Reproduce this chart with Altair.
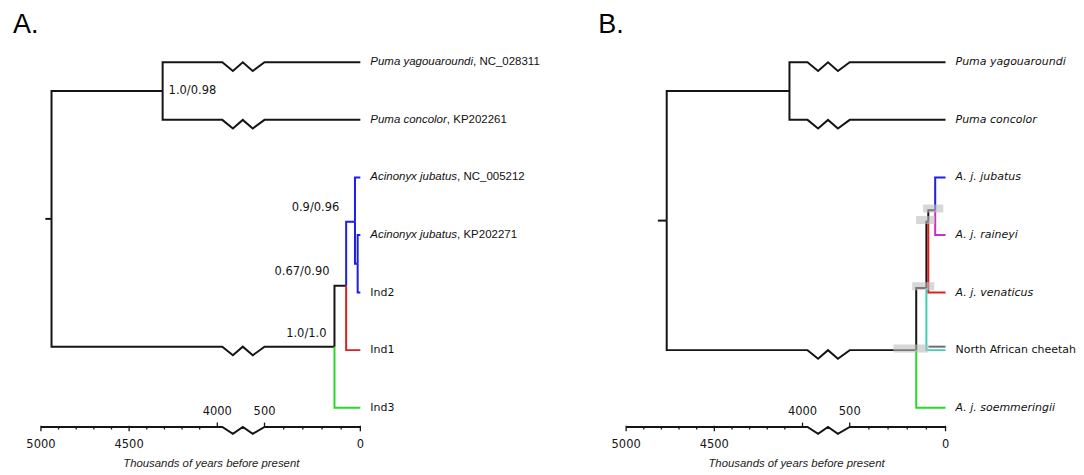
import altair as alt
import pandas as pd

# ---------------- data ----------------
AXIS_MAJOR = [5000, 4500, 4000, 500, 0]
AXIS_MAJOR_SIDE = ["below", "below", "above", "above", "below"]
AXIS_MINOR = [4900, 4800, 4700, 4600, 4400, 4300, 4200, 4100, 400, 300, 200, 100]
AXIS_TITLE = "Thousands of years before present"

# Panel A tree (ages in thousands of years before present, rows = tip order)
A_NODE = ["root", "puma", "c1", "c2", "c3", "c4", "PY", "PC", "AJ1", "AJ2", "Ind2", "Ind1", "Ind3"]
A_PARENT = ["", "root", "root", "c1", "c2", "c3", "puma", "puma", "c3", "c4", "c4", "c2", "c1"]
A_AGE = [4940, 4310, 135, 74, 28, 14, 0, 0, 0, 0, 0, 0, 0]
A_ROW = [2.72, 0.5, 4.94, 3.88, 2.77, 3.5, 0, 1, 2, 3, 4, 5, 6]
A_COLOR = ["black", "black", "black", "black", "blue", "blue", "black", "black",
           "blue", "blue", "blue", "red", "green"]
A_ROOT_STEM = 4975
A_TIP_NAME = ["Puma yagouaroundi", "Puma concolor", "Acinonyx jubatus", "Acinonyx jubatus",
              "Ind2", "Ind1", "Ind3"]
A_TIP_ACC = [", NC_028311", ", KP202261", ", NC_005212", ", KP202271", "", "", ""]
A_TIP_LATIN = [True, True, True, True, False, False, False]
A_TIP_ROW = [0, 1, 2, 3, 4, 5, 6]
A_SUPPORT_NODE = ["puma", "c3", "c2", "c1"]
A_SUPPORT_TEXT = ["1.0/0.98", "0.9/0.96", "0.67/0.90", "1.0/1.0"]

# Panel B tree
B_NODE = ["root", "puma", "c1", "c2", "c3", "c4", "PY", "PC", "JUB", "RAI", "VEN", "NAF", "SOE"]
B_PARENT = ["", "root", "root", "c1", "c2", "c3", "puma", "puma", "c4", "c4", "c3", "c2", "c1"]
B_AGE = [4770, 4074, 153, 100, 90, 54, 0, 0, 0, 0, 0, 0, 0]
B_ROW = [2.75, 0.5, 5.0, 3.92, 2.77, 2.57, 0, 1, 2, 3, 4, 5, 6]
B_COLOR = ["black", "black", "black", "black", "black", "black", "black", "black",
           "blue", "magenta", "red", "turquoise", "green"]
B_ROOT_STEM = 4820
B_TIP_NAME = ["Puma yagouaroundi", "Puma concolor", "A. j. jubatus", "A. j. raineyi",
              "A. j. venaticus", "North African cheetah", "A. j. soemmeringii"]
B_TIP_ACC = ["", "", "", "", "", "", ""]
B_TIP_LATIN = [True, True, True, True, True, False, True]
B_TIP_ROW = [0, 1, 2, 3, 4, 5, 6]
B_HPD_NODE = ["c1", "c2", "c3", "c4"]
B_HPD_LOW = [90, 59, 55, 12]
B_HPD_HIGH = [272, 174, 154, 117]
B_EXTRA_FROM = ["c2"]          # extra grey North African lineage line
B_EXTRA_ROW = [4.94]
B_EXTRA_COLOR = ["grey"]

# ---------------- styles / scale ----------------
PALETTE = {"black": "#151515", "blue": "#1e1ee6", "red": "#dc2020", "green": "#2ad82a",
           "magenta": "#cc30c0", "turquoise": "#3fd0b4", "grey": "#6e6e6e"}
LEFT_RATE = 0.1767     # px per kyr, 5000-4000 segment
RIGHT_RATE = 0.192     # px per kyr, 500-0 segment
GAP0 = 1000 * LEFT_RATE
GAP1 = 224.0
ZIG_FRAC = [0.106, 0.33, 0.54, 0.75, 1.0]
ZIG_DIP = [0, 1, 0, 1, 0]
BRANCH_ZIG = 0.15
AXIS_ZIG = 0.12
ROW_TOP, ROW_BOTTOM = -0.936, 7.023
AXIS_ROW = 6.334
LABEL_BELOW_ROW = 6.655
LABEL_ABOVE_ROW = 6.07
TITLE_ROW = 6.97
TITLE_X = 170.7
LETTER_ROW = -0.64
LETTER_DX = -28
TIP_GAP = 10

ARIAL = {" ": 278, ",": 278, ".": 278, "_": 556, "A": 667, "C": 722, "K": 667, "N": 722,
         "P": 667, "a": 556, "b": 556, "c": 500, "d": 556, "e": 556, "g": 556, "i": 222,
         "j": 222, "l": 222, "m": 833, "n": 556, "o": 556, "r": 333, "s": 500, "t": 278,
         "u": 556, "x": 500, "y": 500}


def text_width(s, size):
    return sum(ARIAL.get(ch, 556) for ch in s) / 1000.0 * size


def disp(t):
    if t >= 4000:
        return (5000 - t) * LEFT_RATE
    return GAP1 + (500 - t) * RIGHT_RATE


def zig(row, depth):
    return [(GAP0 + f * (GAP1 - GAP0), row + d * depth) for f, d in zip(ZIG_FRAC, ZIG_DIP)]


def branch(t0, r0, t1, r1):
    pts = [(disp(t0), r0), (disp(t0), r1)]
    if t0 > 4000 and t1 < 500:
        pts += zig(r1, BRANCH_ZIG)
    pts.append((disp(t1), r1))
    return pts


def make_panel(letter, nodes, parents, ages, rows, colors, root_stem,
               tip_name, tip_acc, tip_latin, tip_row, latin_font, latin_size,
               plain_size, origin, width, supports=None, hpd=None, extra=None):
    age = dict(zip(nodes, ages))
    row = dict(zip(nodes, rows))
    xs = alt.Scale(domain=[-origin, width - origin], nice=False, zero=False)
    ys = alt.Scale(domain=[ROW_TOP, ROW_BOTTOM], nice=False, zero=False, reverse=True)
    X = lambda f: alt.X(f, type="quantitative", scale=xs, axis=None)
    Y = lambda f: alt.Y(f, type="quantitative", scale=ys, axis=None)

    recs = []
    seg = 0

    def add(pts, col):
        nonlocal seg
        for i, (x, y) in enumerate(pts):
            recs.append({"seg": seg, "i": i, "x": x, "y": y, "color": PALETTE[col]})
        seg += 1

    add(branch(root_stem, row["root"], age["root"], row["root"]), "black")
    for n, p, c in zip(nodes, parents, colors):
        if p:
            add(branch(age[p], row[p], age[n], row[n]), c)
    if extra:
        for frm, r, c in zip(*extra):
            add([(disp(age[frm]) + 2, r), (disp(0), r)], c)
    add([(disp(5000), AXIS_ROW)] + zig(AXIS_ROW, AXIS_ZIG) + [(disp(0), AXIS_ROW)], "black")
    lines = alt.Chart(pd.DataFrame(recs)).mark_line(
        strokeWidth=2, strokeJoin="miter", strokeCap="butt"
    ).encode(x=X("x"), y=Y("y"), color=alt.Color("color:N", scale=None),
             detail="seg:N", order="i:Q")
    layers = [lines]

    if hpd:
        hn, lo, hi = hpd
        hdf = pd.DataFrame({"x": [disp(h) for h in hi], "x2": [disp(l) for l in lo],
                            "y": [row[n] - 0.03 for n in hn]})
        layers.append(alt.Chart(hdf).mark_rule(strokeWidth=8, color="#bdbdbd", opacity=0.6)
                      .encode(x=X("x"), x2="x2", y=Y("y")))

    tk = []
    for t in AXIS_MINOR:
        tk.append({"x": disp(t), "y": AXIS_ROW, "y2": AXIS_ROW + 0.045})
    for t, side in zip(AXIS_MAJOR, AXIS_MAJOR_SIDE):
        if side == "below":
            tk.append({"x": disp(t), "y": AXIS_ROW - 0.02, "y2": AXIS_ROW + 0.075})
        else:
            tk.append({"x": disp(t), "y": AXIS_ROW - 0.075, "y2": AXIS_ROW})
    layers.append(alt.Chart(pd.DataFrame(tk)).mark_rule(strokeWidth=1.3, color="#151515")
                  .encode(x=X("x"), y=Y("y"), y2="y2"))
    tl = pd.DataFrame({"x": [disp(t) for t in AXIS_MAJOR],
                       "y": [LABEL_BELOW_ROW if s == "below" else LABEL_ABOVE_ROW
                             for s in AXIS_MAJOR_SIDE],
                       "t": [str(t) for t in AXIS_MAJOR]})
    layers.append(alt.Chart(tl).mark_text(font="DejaVu Sans", fontSize=11.5, color="#151515",
                                          baseline="middle", align="center")
                  .encode(x=X("x"), y=Y("y"), text="t:N"))
    layers.append(alt.Chart(pd.DataFrame({"x": [TITLE_X], "y": [TITLE_ROW], "t": [AXIS_TITLE]}))
                  .mark_text(font="Liberation Sans", fontStyle="italic", fontSize=11.4,
                             color="#222222", baseline="middle", align="center")
                  .encode(x=X("x"), y=Y("y"), text="t:N"))

    x0 = disp(0) + TIP_GAP
    lat = pd.DataFrame({"x": [x0] * len(tip_name), "y": tip_row, "t": tip_name, "l": tip_latin})
    lat_df = lat[lat["l"]]
    pl_df = lat[~lat["l"]]
    layers.append(alt.Chart(lat_df).mark_text(font=latin_font, fontStyle="italic",
                                              fontSize=latin_size, color="#111111",
                                              baseline="middle", align="left")
                  .encode(x=X("x"), y=Y("y"), text="t:N"))
    layers.append(alt.Chart(pl_df).mark_text(font="DejaVu Sans", fontSize=plain_size,
                                             color="#111111", baseline="middle", align="left")
                  .encode(x=X("x"), y=Y("y"), text="t:N"))
    acc = pd.DataFrame({"x": [x0 + text_width(n, latin_size) for n in tip_name],
                        "y": tip_row, "t": tip_acc})
    acc = acc[acc["t"] != ""]
    if len(acc):
        layers.append(alt.Chart(acc).mark_text(font="Liberation Sans", fontSize=latin_size,
                                               color="#111111", baseline="middle", align="left")
                      .encode(x=X("x"), y=Y("y"), text="t:N"))

    if supports:
        sn, st = supports
        pos = {"puma": ("left", 6, 0.0), "c3": ("right", -15.7, -0.234),
               "c2": ("right", -16.7, -0.243), "c1": ("right", -8, -0.225)}
        for al in ["left", "right"]:
            recs2 = [{"x": disp(age[n]) + pos[n][1], "y": row[n] + pos[n][2], "t": t}
                     for n, t in zip(sn, st) if pos[n][0] == al]
            if recs2:
                layers.append(alt.Chart(pd.DataFrame(recs2))
                              .mark_text(font="DejaVu Sans", fontSize=11.5, color="#151515",
                                         baseline="middle", align=al)
                              .encode(x=X("x"), y=Y("y"), text="t:N"))

    layers.append(alt.Chart(pd.DataFrame({"x": [LETTER_DX], "y": [LETTER_ROW], "t": [letter]}))
                  .mark_text(font="Liberation Sans", fontSize=27, color="#000000",
                             baseline="middle", align="left")
                  .encode(x=X("x"), y=Y("y"), text="t:N"))

    return alt.layer(*layers).properties(width=width, height=459)


panel_a = make_panel("A.", A_NODE, A_PARENT, A_AGE, A_ROW, A_COLOR, A_ROOT_STEM,
                     A_TIP_NAME, A_TIP_ACC, A_TIP_LATIN, A_TIP_ROW,
                     "Liberation Sans", 11.5, 11, origin=33, width=540,
                     supports=(A_SUPPORT_NODE, A_SUPPORT_TEXT))
panel_b = make_panel("B.", B_NODE, B_PARENT, B_AGE, B_ROW, B_COLOR, B_ROOT_STEM,
                     B_TIP_NAME, B_TIP_ACC, B_TIP_LATIN, B_TIP_ROW,
                     "DejaVu Sans", 11, 11, origin=79.3, width=528,
                     hpd=(B_HPD_NODE, B_HPD_LOW, B_HPD_HIGH),
                     extra=(B_EXTRA_FROM, B_EXTRA_ROW, B_EXTRA_COLOR))

chart = alt.hconcat(panel_a, panel_b, spacing=0, bounds="flush").properties(
    padding=0
).configure(
    background="white",
    view=alt.ViewConfig(stroke="transparent", strokeWidth=0),
)

chart.save("out.html", embed_options={"renderer": "svg", "actions": False})
